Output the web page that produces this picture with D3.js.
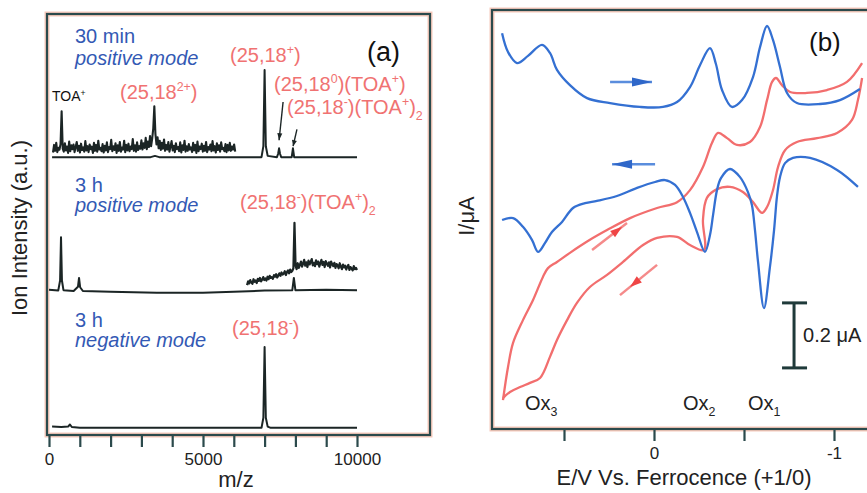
<!DOCTYPE html>
<html>
<head>
<meta charset="utf-8">
<script src="https://cdn.jsdelivr.net/npm/d3@7"></script>
<style>
body { margin: 0; background: #fff; }
svg text { font-family: "Liberation Sans", Arial, Helvetica, sans-serif; }
</style>
</head>
<body>
<svg width="867" height="493"></svg>
<script>
// ---------- panel (a) data: ESI mass spectra, intensity in a.u. above each trace's baseline ----------
var mzTickValues = [0, 1000, 2000, 3000, 4000, 5000, 6000, 7000, 8000, 9000, 10000];
var mzTickLabels = [0, 5000, 10000];

var spec30Main = [[100, 0], [3300, 0], [3440, 0.3], [3580, 0], [6900, 0], [6960, 2.6], [7000, 20.7], [7040, 2.6],
    [7100, 0.3], [7400, 0], [7440, 0.8], [7470, 2.1], [7500, 0.8], [7540, 0], [7880, 0], [7920, 2.1], [7960, 0], [10000, 0]];
// magnified part of the 30 min trace (m/z 130 .. 6045, step 35)
var spec30ZoomStart = 130, spec30ZoomStep = 35;
var spec30Zoom = [
    1.1, 2.9, 1.5, 3.4, 1.2, 2.2, 1.8, 3.1, 10.9, 2.0,
    1.3, 3.3, 1.6, 2.5, 1.0, 3.7, 1.4, 2.8, 1.9, 3.0,
    1.2, 2.4, 3.6, 1.5, 2.7, 1.1, 3.2, 1.7, 2.3, 1.3,
    3.8, 1.6, 2.6, 1.2, 3.0, 1.9, 2.5, 1.0, 3.4, 1.5,
    2.9, 1.3, 3.9, 1.8, 2.2, 1.4, 3.1, 1.1, 2.7, 1.6,
    3.5, 1.2, 2.4, 1.9, 4.1, 1.4, 2.6, 1.7, 3.3, 1.0,
    2.8, 1.5, 3.6, 1.3, 2.3, 1.8, 3.9, 1.2, 2.9, 1.6,
    3.2, 1.4, 2.5, 1.9, 4.3, 1.5, 2.8, 1.3, 3.5, 1.7,
    2.6, 2.0, 4.0, 1.8, 3.3, 2.2, 4.6, 1.9, 3.7, 2.4,
    5.0, 2.6, 4.4, 6.8, 12.1, 5.5, 3.0, 4.7, 2.1, 3.9,
    1.7, 3.4, 2.0, 4.2, 1.5, 2.9, 1.8, 3.6, 1.3, 2.5,
    3.8, 1.6, 2.7, 1.2, 3.3, 1.9, 2.4, 1.4, 3.5, 1.1,
    2.8, 1.7, 3.9, 1.3, 2.6, 1.5, 3.1, 1.8, 2.3, 1.2,
    3.4, 1.6, 2.9, 1.0, 3.7, 1.4, 2.5, 1.9, 3.2, 1.3,
    2.7, 1.5, 3.6, 1.2, 2.4, 1.8, 3.0, 1.4, 3.8, 1.6,
    2.6, 1.1, 3.3, 1.7, 2.8, 1.3, 3.5, 1.9, 2.2, 1.4,
    3.1, 1.2, 2.9, 1.6, 3.4, 1.5, 2.5, 1.8, 3.0, 1.3];

var spec3hPosMain = [[0, 0.3], [300, 0.1], [360, 2.5], [390, 12.8], [420, 2.5], [470, 0.2], [800, 0], [940, 1.0],
    [975, 3.1], [1010, 0.9], [1100, 0], [2000, -0.2], [3500, -0.4], [5000, -0.4], [6000, -0.2], [7000, 0.1],
    [7900, 0.2], [7950, 3.1], [8000, 0.2], [9000, 0.3], [10000, 0.2]];
// magnified part of the 3 h positive trace (m/z 6430 .. 10000, step 35)
var spec3hPosZoomStart = 6430, spec3hPosZoomStep = 35;
var spec3hPosZoom = [
    1.4, 2.3, 1.8, 2.6, 2.0, 1.7, 2.8, 2.2, 2.5, 1.9,
    2.9, 2.4, 3.1, 2.3, 2.7, 3.3, 2.6, 3.0, 2.5, 3.4,
    2.8, 3.6, 3.1, 3.3, 2.9, 3.8, 3.4, 4.0, 3.2, 3.7,
    4.2, 3.6, 4.4, 3.9, 4.1, 4.7, 3.8, 4.5, 4.9, 4.2,
    5.1, 4.5, 4.8, 5.4, 16.2, 6.0, 5.2, 6.6, 5.5, 6.2,
    7.0, 5.8, 6.5, 7.4, 6.0, 6.8, 5.7, 7.2, 6.3, 6.9,
    7.6, 6.1, 6.7, 5.9, 7.3, 6.4, 7.0, 5.8, 6.6, 7.4,
    6.2, 6.9, 5.7, 7.1, 6.5, 6.0, 6.8, 5.6, 7.0, 6.3,
    5.9, 6.7, 5.5, 6.4, 6.1, 5.4, 6.6, 5.8, 5.2, 6.3,
    5.6, 6.0, 5.1, 5.8, 6.2, 5.0, 5.7, 5.3, 4.9, 5.9,
    5.2, 5.5, 5.0];

var spec3hNeg = [[100, 0.3], [400, 0.2], [620, 0.3], [680, 0.8], [740, 0.2], [1000, 0], [6900, 0], [6960, 2.4],
    [7000, 19.2], [7040, 2.4], [7100, 0.3], [7200, 0], [10000, 0]];

// ---------- panel (b) data: cyclic voltammograms, [E (V vs Fc), I (uA, arbitrary offset)] ----------
var eTickValues = [0.5, 0, -0.5, -1];
var eTickLabels = [0, -1];

var blueForward = [[0.844, 1.218], [0.811, 1.160], [0.761, 1.126], [0.700, 1.148], [0.622, 1.182], [0.578, 1.157],
    [0.539, 1.105], [0.467, 1.058], [0.372, 1.018], [0.244, 1.003], [0.078, 0.991], [-0.050, 0.991],
    [-0.128, 1.006], [-0.200, 1.052], [-0.256, 1.120], [-0.311, 1.172], [-0.344, 1.123], [-0.378, 1.043],
    [-0.433, 0.991], [-0.489, 1.012], [-0.550, 1.083], [-0.589, 1.175], [-0.628, 1.240], [-0.661, 1.197],
    [-0.700, 1.114], [-0.739, 1.034], [-0.794, 1.003], [-0.922, 1.000], [-1.033, 1.012], [-1.144, 1.046]];

var blueReverse = [[-1.133, 0.745], [-1.017, 0.797], [-0.867, 0.834], [-0.772, 0.834], [-0.728, 0.818],
    [-0.700, 0.775], [-0.683, 0.714], [-0.667, 0.612], [-0.644, 0.498], [-0.611, 0.372], [-0.578, 0.514],
    [-0.561, 0.612], [-0.544, 0.689], [-0.522, 0.729], [-0.478, 0.775], [-0.422, 0.800], [-0.372, 0.772],
    [-0.350, 0.735], [-0.328, 0.658], [-0.311, 0.597], [-0.283, 0.545], [-0.239, 0.606], [-0.200, 0.665],
    [-0.161, 0.714], [-0.117, 0.751], [-0.061, 0.766], [-0.006, 0.760], [0.094, 0.742], [0.206, 0.717],
    [0.317, 0.702], [0.383, 0.695], [0.450, 0.680], [0.511, 0.637], [0.567, 0.606], [0.606, 0.572],
    [0.644, 0.545], [0.678, 0.582], [0.728, 0.622], [0.783, 0.649], [0.844, 0.643]];

var redForward = [[0.839, 0.089], [0.811, 0.191], [0.783, 0.265], [0.728, 0.335], [0.672, 0.397], [0.617, 0.468],
    [0.589, 0.495], [0.539, 0.514], [0.467, 0.542], [0.356, 0.582], [0.261, 0.612], [0.133, 0.649],
    [-0.017, 0.680], [-0.128, 0.698], [-0.200, 0.735], [-0.272, 0.806], [-0.322, 0.880], [-0.356, 0.911],
    [-0.406, 0.895], [-0.461, 0.874], [-0.533, 0.883], [-0.589, 0.929], [-0.628, 1.012], [-0.656, 1.068],
    [-0.678, 1.080], [-0.711, 1.058], [-0.756, 1.037], [-0.850, 1.034], [-0.961, 1.043], [-1.072, 1.068],
    [-1.156, 1.126]];

var redReverse = [[-1.156, 1.080], [-1.133, 1.012], [-1.100, 0.951], [-1.017, 0.911], [-0.906, 0.895],
    [-0.794, 0.883], [-0.728, 0.858], [-0.689, 0.806], [-0.661, 0.735], [-0.628, 0.683], [-0.600, 0.665],
    [-0.550, 0.698], [-0.494, 0.729], [-0.422, 0.745], [-0.350, 0.738], [-0.294, 0.711], [-0.272, 0.643],
    [-0.278, 0.551], [-0.200, 0.566], [-0.128, 0.591], [-0.017, 0.588], [0.061, 0.566], [0.172, 0.514],
    [0.261, 0.474], [0.356, 0.437], [0.428, 0.388], [0.483, 0.335], [0.539, 0.274], [0.578, 0.222],
    [0.633, 0.157], [0.689, 0.142], [0.744, 0.129], [0.800, 0.114], [0.839, 0.095]];

var scaleBarUA = 0.2;

// ---------- drawing ----------
var svg = d3.select("svg"),
    FONT = "'Liberation Sans', Arial, Helvetica, sans-serif",
    frameColor = "#2b4a4c",
    haloColor = "#f6c9bb",
    traceColor = "#1b2525",
    blueText = "#3359b4",
    redText = "#f07272",
    blueLine = "#3470d2",
    redLine = "#f26e6e";

function richText(g, x, y, parts, o) {
    var t = g.append("text").attr("x", x).attr("y", y)
        .attr("font-size", o.size).attr("fill", o.color);
    if (o.italic) t.attr("font-style", "italic");
    if (o.anchor) t.attr("text-anchor", o.anchor);
    var shift = 0, fs = o.size;
    parts.forEach(function (p) {
        var target = p[1] === "sup" ? -0.38 * fs : p[1] === "sub" ? 0.3 * fs : 0;
        var ts = t.append("tspan").attr("dy", target - shift).text(p[0]);
        if (p[1]) ts.attr("font-size", 0.62 * fs);
        shift = target;
    });
    return t;
}

function frame(x, y, w, h) {
    svg.append("rect").attr("x", x).attr("y", y).attr("width", w).attr("height", h)
        .attr("fill", "none").attr("stroke", haloColor).attr("stroke-width", 5);
    svg.append("rect").attr("x", x).attr("y", y).attr("width", w).attr("height", h)
        .attr("fill", "none").attr("stroke", frameColor).attr("stroke-width", 2.2);
}

function arrow(g, x1, y1, x2, y2, t, len, wid, lineColor, headColor, lw) {
    g.append("line").attr("x1", x1).attr("y1", y1).attr("x2", x2).attr("y2", y2)
        .attr("stroke", lineColor).attr("stroke-width", lw);
    var dx = x2 - x1, dy = y2 - y1, L = Math.sqrt(dx * dx + dy * dy),
        ux = dx / L, uy = dy / L, tx = x1 + dx * t, ty = y1 + dy * t,
        bx = tx - ux * len, by = ty - uy * len;
    g.append("path")
        .attr("d", "M" + tx + "," + ty + "L" + (bx - uy * wid / 2) + "," + (by + ux * wid / 2) +
            "L" + (bx + uy * wid / 2) + "," + (by - ux * wid / 2) + "Z")
        .attr("fill", headColor);
}

// ===== panel (a) =====
var xA = d3.scaleLinear().domain([0, 10000]).range([49, 357]);
var yA = d3.scaleLinear().domain([0, 100]).range([435, 14]);
var baseTop = 66.0, baseMid = 34.2, baseBot = 1.7;

frame(47, 14, 383, 421);

var gA = svg.append("g");

function traceLine(off) {
    return d3.line()
        .x(function (d) { return xA(d[0]); })
        .y(function (d) { return yA(d[1] + off); });
}
function stepped(start, step, vals) {
    return vals.map(function (v, i) { return [start + i * step, v]; });
}

var spectra = [
    {pts: spec30Main, off: baseTop, w: 2},
    {pts: stepped(spec30ZoomStart, spec30ZoomStep, spec30Zoom), off: baseTop, w: 2.1},
    {pts: spec3hPosMain, off: baseMid, w: 2},
    {pts: stepped(spec3hPosZoomStart, spec3hPosZoomStep, spec3hPosZoom), off: baseMid, w: 2.2},
    {pts: spec3hNeg, off: baseBot, w: 2}
];
spectra.forEach(function (s) {
    gA.append("path").datum(s.pts)
        .attr("d", traceLine(s.off))
        .attr("fill", "none").attr("stroke", traceColor)
        .attr("stroke-width", s.w).attr("stroke-linejoin", "round");
});

// small arrows to the adduct peaks
arrow(gA, xA(7600), yA(baseTop + 13.1), xA(7470), yA(baseTop + 4.0), 1, 7, 5, traceColor, traceColor, 1.4);
arrow(gA, xA(8050), yA(baseTop + 6.6), xA(7925), yA(baseTop + 2.6), 1, 6, 5, traceColor, traceColor, 1.4);

var axA = svg.append("g").attr("transform", "translate(0,435)")
    .call(d3.axisBottom(xA).tickValues(mzTickValues).tickSize(12).tickPadding(6)
        .tickFormat(function (d) { return mzTickLabels.indexOf(d) >= 0 ? d : ""; }));
axA.select(".domain").remove();
axA.selectAll("line").attr("stroke", frameColor).attr("stroke-width", 2.2);
axA.attr("font-family", FONT).attr("font-size", 17);
axA.selectAll("text").attr("fill", "#222");

svg.append("text").attr("x", 236).attr("y", 487).attr("text-anchor", "middle")
    .attr("font-size", 22).attr("fill", "#222").text("m/z");
svg.append("text").attr("transform", "translate(27,228) rotate(-90)").attr("text-anchor", "middle")
    .attr("font-size", 22).attr("fill", "#222").text("Ion Intensity (a.u.)");

// labels
richText(svg, 75, 43, [["30 min"]], {size: 20, color: blueText});
richText(svg, 75, 65, [["positive mode"]], {size: 20, color: blueText, italic: true});
richText(svg, 75, 192, [["3 h"]], {size: 20, color: blueText});
richText(svg, 75, 212, [["positive mode"]], {size: 20, color: blueText, italic: true});
richText(svg, 75, 327, [["3 h"]], {size: 20, color: blueText});
richText(svg, 75, 347, [["negative mode"]], {size: 20, color: blueText, italic: true});

richText(svg, 52, 101, [["TOA"], ["+", "sup"]], {size: 14, color: "#111"});
richText(svg, 120, 99, [["(25,18"], ["2+", "sup"], [")"]], {size: 20, color: redText});
richText(svg, 230, 62, [["(25,18"], ["+", "sup"], [")"]], {size: 20, color: redText});
richText(svg, 274, 91, [["(25,18"], ["0", "sup"], [")(TOA"], ["+", "sup"], [")"]], {size: 20, color: redText});
richText(svg, 287, 114, [["(25,18"], ["-", "sup"], [")(TOA"], ["+", "sup"], [")"], ["2", "sub"]], {size: 20, color: redText});
richText(svg, 240, 209, [["(25,18"], ["-", "sup"], [")(TOA"], ["+", "sup"], [")"], ["2", "sub"]], {size: 20, color: redText});
richText(svg, 232, 335, [["(25,18"], ["-", "sup"], [")"]], {size: 20, color: redText});
svg.append("text").attr("x", 367).attr("y", 61).attr("font-size", 27).attr("fill", "#111").text("(a)");

// ===== panel (b) =====
var xB = d3.scaleLinear().domain([0.9, -1.2]).range([492, 870]);
var yB = d3.scaleLinear().domain([0, 1.29]).range([429, 9.75]);

frame(492, 10, 400, 419);

var gB = svg.append("g");
var cv = d3.line().curve(d3.curveCatmullRom.alpha(0.5))
    .x(function (d) { return xB(d[0]); })
    .y(function (d) { return yB(d[1]); });

[[redForward, redLine], [redReverse, redLine], [blueForward, blueLine], [blueReverse, blueLine]]
    .forEach(function (c) {
        gB.append("path").datum(c[0]).attr("d", cv)
            .attr("fill", "none").attr("stroke", c[1]).attr("stroke-width", 2.3);
    });

// scan direction arrows
arrow(gB, xB(0.244), yB(1.068), xB(0.011), yB(1.068), 1, 20, 9, "#5a8ddd", "#2f67c9", 2.5);
arrow(gB, xB(-0.006), yB(0.815), xB(0.233), yB(0.815), 1, 20, 9, "#5a8ddd", "#2f67c9", 2.5);
arrow(gB, xB(0.344), yB(0.551), xB(0.150), yB(0.634), 0.86, 12, 8, "#f58a8a", "#ef4545", 2.5);
arrow(gB, xB(-0.017), yB(0.505), xB(0.189), yB(0.412), 0.73, 12, 8, "#f58a8a", "#ef4545", 2.5);

// scale bar
var barE = -0.778, barI0 = 0.188;
gB.append("line").attr("x1", xB(barE)).attr("x2", xB(barE))
    .attr("y1", yB(barI0)).attr("y2", yB(barI0 + scaleBarUA))
    .attr("stroke", "#1f3a3a").attr("stroke-width", 3);
[barI0, barI0 + scaleBarUA].forEach(function (v) {
    gB.append("line").attr("x1", xB(barE) - 12).attr("x2", xB(barE) + 13)
        .attr("y1", yB(v)).attr("y2", yB(v))
        .attr("stroke", "#1f3a3a").attr("stroke-width", 3);
});
svg.append("text").attr("x", xB(barE) + 9).attr("y", yB(barI0 + scaleBarUA / 2) + 7)
    .attr("font-size", 20).attr("fill", "#222").text("0.2 \u03bcA");

var axB = svg.append("g").attr("transform", "translate(0,429)")
    .call(d3.axisBottom(xB).tickValues(eTickValues).tickSize(12).tickPadding(6)
        .tickFormat(function (d) { return eTickLabels.indexOf(d) >= 0 ? String(d).replace("\u2212", "-") : ""; }));
axB.select(".domain").remove();
axB.selectAll("line").attr("stroke", frameColor).attr("stroke-width", 2.2);
axB.attr("font-family", FONT).attr("font-size", 17);
axB.selectAll("text").attr("fill", "#222");

svg.append("text").attr("x", 684).attr("y", 485).attr("text-anchor", "middle")
    .attr("font-size", 22).attr("fill", "#222").text("E/V Vs. Ferrocence (+1/0)");
svg.append("text").attr("transform", "translate(474,216) rotate(-90)").attr("text-anchor", "middle")
    .attr("font-size", 22).attr("fill", "#222").text("I/\u03bcA");

richText(svg, xB(0.717), 410, [["Ox"], ["3", "sub"]], {size: 20, color: "#222"});
richText(svg, xB(-0.161), 410, [["Ox"], ["2", "sub"]], {size: 20, color: "#222"});
richText(svg, xB(-0.522), 410, [["Ox"], ["1", "sub"]], {size: 20, color: "#222"});
svg.append("text").attr("x", 809).attr("y", 51).attr("font-size", 26).attr("fill", "#111").text("(b)");
</script>
</body>
</html>
